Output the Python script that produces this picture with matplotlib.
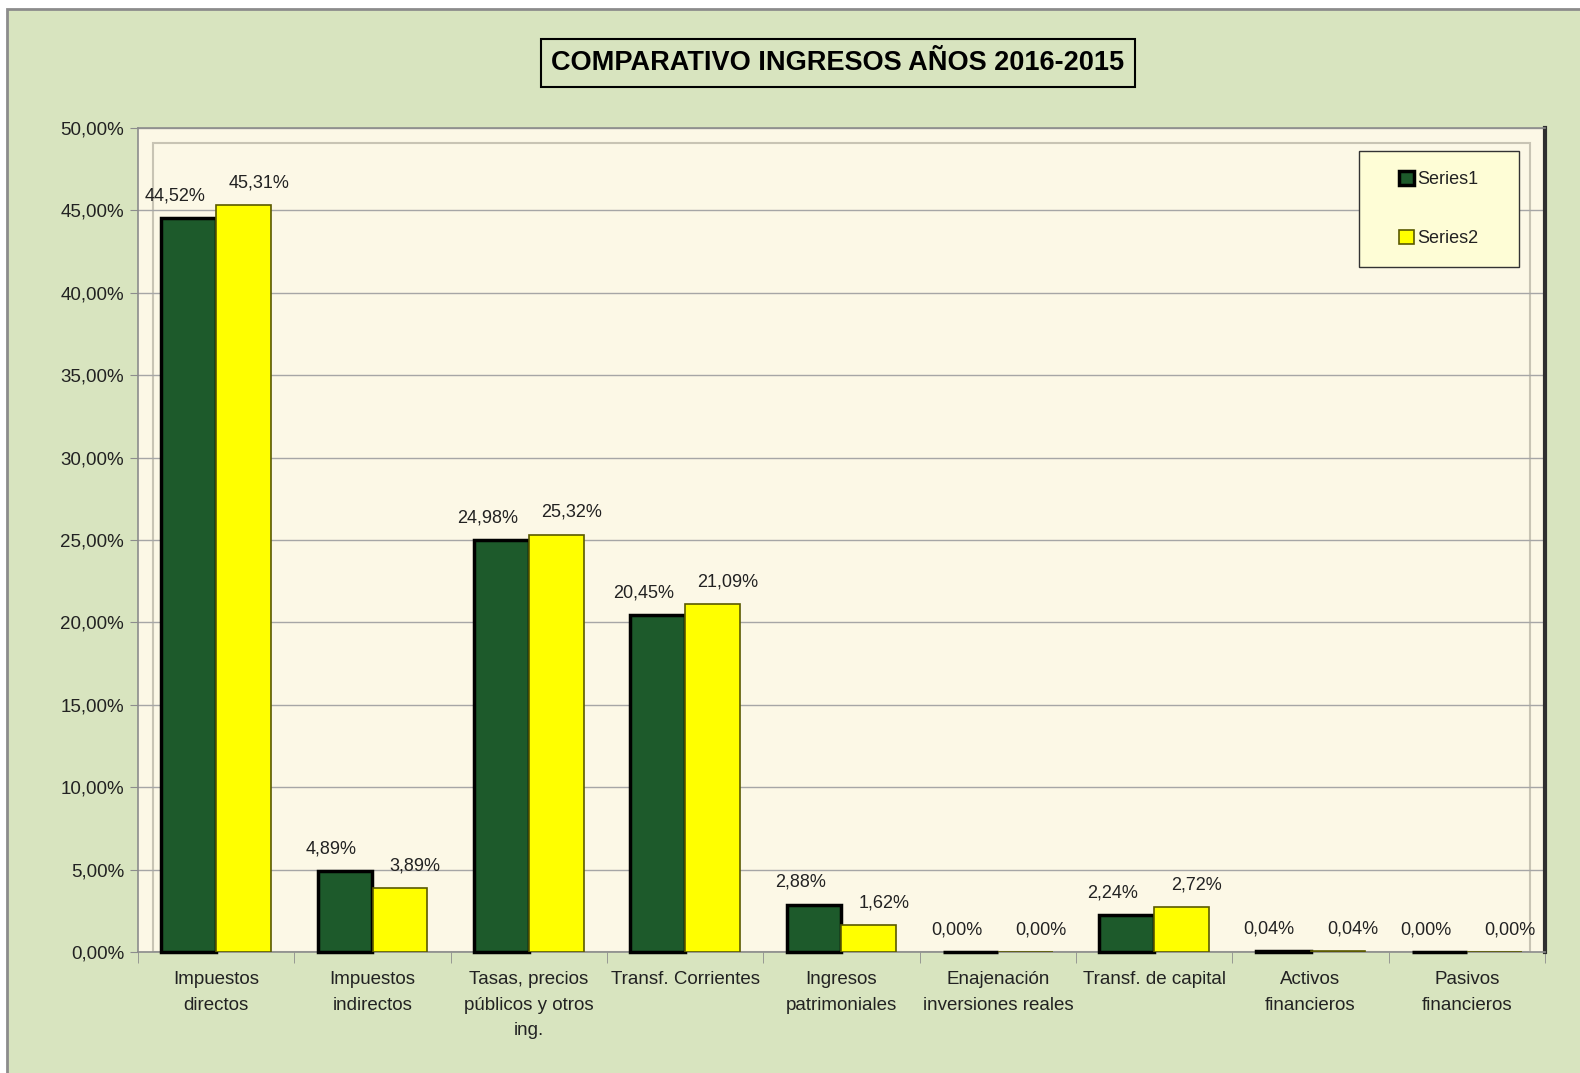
import matplotlib.pyplot as plt
import matplotlib.patches as mpatches
import numpy as np

plt.rcParams['font.family'] = ['Liberation Sans', 'DejaVu Sans']

# --- data ---
categories = ["Impuestos\ndirectos", "Impuestos\nindirectos", "Tasas, precios\npúblicos y otros\ning.",
              "Transf. Corrientes", "Ingresos\npatrimoniales", "Enajenación\ninversiones reales",
              "Transf. de capital", "Activos\nfinancieros", "Pasivos\nfinancieros"]
series1 = [44.52, 4.89, 24.98, 20.45, 2.88, 0.00, 2.24, 0.04, 0.00]
series2 = [45.31, 3.89, 25.32, 21.09, 1.62, 0.00, 2.72, 0.04, 0.00]
yticks = [0, 5, 10, 15, 20, 25, 30, 35, 40, 45, 50]

W, H = 1580, 1073
fig = plt.figure(figsize=(W / 100, H / 100), dpi=100)
fig.patch.set_facecolor('white')

# chart area background with gray border
fig.patches.append(mpatches.Rectangle((7 / W, -0.01), 1.02, 1 - 9 / H + 0.01, transform=fig.transFigure,
                                      facecolor='#d8e4bf', edgecolor='#8c8c8c', linewidth=2, zorder=-10))

ax = fig.add_axes([138 / W, 121 / H, (1545 - 138) / W, (952 - 128) / H])
ax.set_facecolor('#fcf8e6')

x = np.arange(len(categories))
bw = 0.35
b1 = ax.bar(x - bw / 2, series1, bw, color='#1d5a2b', edgecolor='black', linewidth=2.5, zorder=3,
            label='Series1', clip_on=False)
b2 = ax.bar(x + bw / 2, series2, bw, color='#ffff00', edgecolor='#5a5a00', linewidth=1.2, zorder=3,
            label='Series2')

def fmt(v):
    return f"{v:.2f}%".replace('.', ',')

# Excel spreads the labels a little: series 1 to the left, series 2 to the right
for bars, vals, dx in ((b1, series1, -10), (b2, series2, 11)):
    for rect, v in zip(bars, vals):
        ax.annotate(fmt(v), (rect.get_x() + rect.get_width() / 2, v), xytext=(dx, 10),
                    textcoords='offset points', ha='center', va='bottom', fontsize=13, color='#222222',
                    annotation_clip=False)

ax.set_xlim(-0.5, len(categories) - 0.5)
ax.set_ylim(0, 50)
ax.set_yticks(yticks)
ax.set_yticklabels([f"{t:.2f}%".replace('.', ',') for t in yticks], fontsize=13.5, color='#222222')
ax.yaxis.grid(True, color='#a6a6a6', linewidth=1, zorder=0)
ax.tick_params(axis='y', length=6, color='#8c8c8c', pad=4)

ax.set_xticks(x)
ax.set_xticklabels(categories, fontsize=13.5, color='#222222', linespacing=1.65)
ax.set_xticks(np.arange(len(categories) + 1) - 0.5, minor=True)
ax.tick_params(axis='x', which='major', length=0, pad=14)
ax.tick_params(axis='x', which='minor', length=8, color='#8c8c8c')

for s in ('left', 'top', 'bottom'):
    ax.spines[s].set_color('#8c8c8c')
    ax.spines[s].set_linewidth(1.2)
ax.spines['right'].set_color('#2f2f2f')
ax.spines['right'].set_linewidth(3)

# inner wall frame
ax.add_patch(mpatches.Rectangle((15 / 1407, 0), 1 - 30 / 1407, 1 - 15 / 824, transform=ax.transAxes,
                                fill=False, edgecolor='#c8c4b4', linewidth=1.5, zorder=1))

# legend box drawn by hand, entries centred inside
lx0, lx1 = (1359 - 138) / 1407, (1519 - 138) / 1407
ly0, ly1 = (952 - 267) / 824, (952 - 151) / 824
ax.add_patch(mpatches.Rectangle((lx0, ly0), lx1 - lx0, ly1 - ly0, transform=ax.transAxes,
                                facecolor='#fefdd6', edgecolor='#333333', linewidth=1, zorder=5))
leg = ax.legend(loc='center', bbox_to_anchor=((lx0 + lx1) / 2, (ly0 + ly1) / 2), fontsize=13,
                frameon=False, handlelength=0.8, handleheight=0.8, handletextpad=0.2,
                labelspacing=2.3, borderpad=0, borderaxespad=0)
leg.set_zorder(6)
for t in leg.get_texts():
    t.set_color('#222222')

fig.text(838 / W, 1 - 63 / H, "COMPARATIVO INGRESOS AÑOS 2016-2015", ha='center', va='center',
         fontsize=19.5, fontweight='bold', color='black',
         bbox=dict(boxstyle='square,pad=0.4', facecolor='none', edgecolor='black', linewidth=1.5))

fig.savefig('out.png', dpi=100)
